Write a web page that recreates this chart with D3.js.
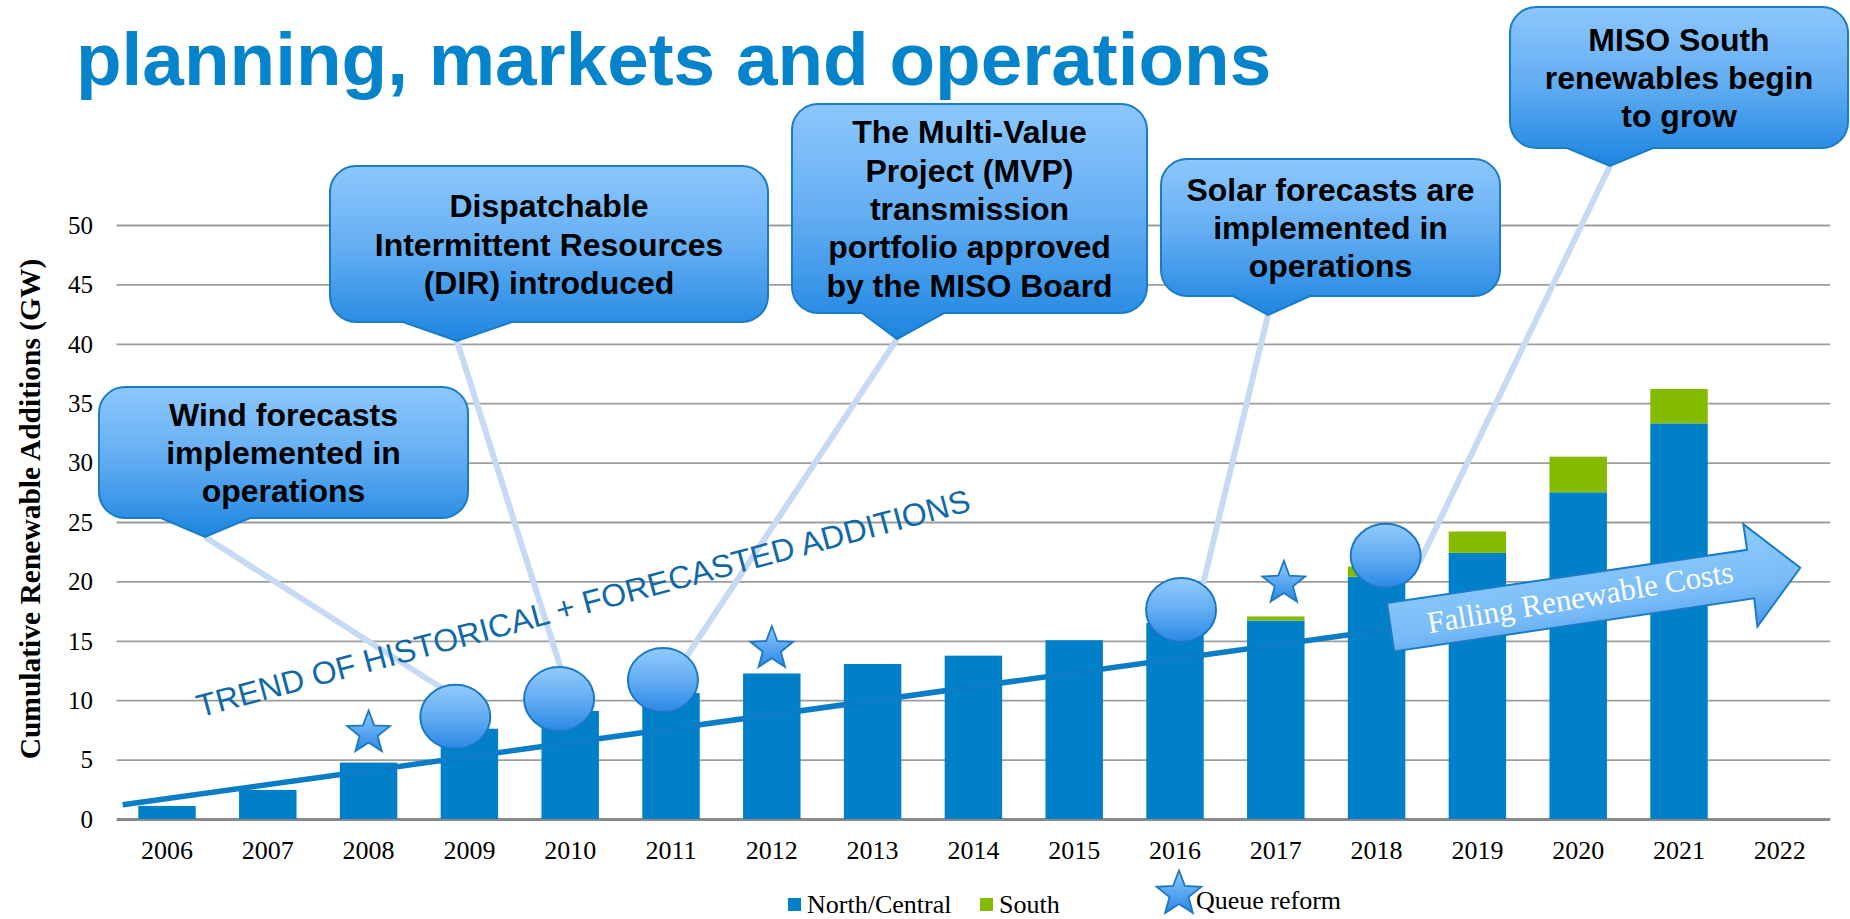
<!DOCTYPE html>
<html><head><meta charset="utf-8">
<script src="https://cdn.jsdelivr.net/npm/d3@7"></script>
<style>html,body{margin:0;padding:0;background:#fff;overflow:hidden}</style>
</head><body>
<svg id="chart" width="1850" height="919"></svg>
<script>
// ---------------- DATA ----------------
const years = ["2006","2007","2008","2009","2010","2011","2012","2013","2014","2015","2016","2017","2018","2019","2020","2021","2022"];
const northCentral = [1.1, 2.45, 4.75, 7.6, 9.1, 10.6, 12.25, 13.05, 13.75, 15.05, 16.5, 16.7, 20.4, 22.4, 27.5, 33.3, 0];
const south        = [0,   0,    0,    0,   0,   0,    0,     0,     0,     0,     0,    0.35, 0.85, 1.8, 3.0, 2.9, 0];
const seriesNames = ["North/Central", "South"];
const yTicks = [0, 5, 10, 15, 20, 25, 30, 35, 40, 45, 50];

const queueReformYears  = [2008, 2012, 2017.08];
const queueReformLevels = [7.4, 14.5, 20.0];

const milestoneYears  = [2008.86, 2009.89, 2010.92, 2016.06, 2018.09];
const milestoneLevels = [8.6, 10.1, 11.7, 17.6, 22.15];

const trendYears  = [2005.56, 2018.23];
const trendLevels = [1.2, 16.1];

const calloutTexts = [
  ["Wind forecasts", "implemented in", "operations"],
  ["Dispatchable", "Intermittent Resources", "(DIR) introduced"],
  ["The Multi-Value", "Project (MVP)", "transmission", "portfolio approved", "by the MISO Board"],
  ["Solar forecasts are", "implemented in", "operations"],
  ["MISO South", "renewables begin", "to grow"]
];

const titleText = "planning, markets and operations";
const yAxisTitle = "Cumulative Renewable Additions (GW)";
const trendLabel = "TREND OF HISTORICAL + FORECASTED ADDITIONS";
const arrowLabel = "Falling Renewable Costs";
const legendStarLabel = "Queue reform";

// ---------------- LAYOUT / STYLE ----------------
const svg = d3.select("#chart");
const SANS = "'Liberation Sans', Arial, sans-serif";
const SERIF = "'Liberation Serif', 'Times New Roman', serif";
const BLUE = "#0080c9", GREEN = "#84bb00";

const x = d3.scaleBand().domain(years).range([116.6, 1830.2]).paddingInner(0.43).paddingOuter(0.215);
const y = d3.scaleLinear().domain([0, 50]).range([819, 225]);
const cx = yr => x(yr) + x.bandwidth() / 2;
const yearPos = d3.scaleLinear().domain([2006, 2022]).range([cx("2006"), cx("2022")]);

const defs = svg.append("defs");
function vGrad(id, stops) {
  const g = defs.append("linearGradient").attr("id", id).attr("x1", 0).attr("y1", 0).attr("x2", 0).attr("y2", 1);
  stops.forEach(s => g.append("stop").attr("offset", s[0]).attr("stop-color", s[1]));
}
vGrad("calloutGrad", [[0, "#8cc7fd"], [0.45, "#66aff3"], [1, "#1c85e0"]]);
vGrad("bubbleGrad", [[0, "#92cbfd"], [0.5, "#64adf2"], [1, "#2a89e6"]]);
vGrad("starGrad", [[0, "#8fc9fd"], [1, "#2a88e4"]]);
vGrad("arrowGrad", [[0, "#90ccfd"], [0.6, "#78bbf7"], [1, "#4a9be9"]]);

// Title
svg.append("text").attr("x", 76).attr("y", 85)
  .attr("font-family", SANS).attr("font-weight", "bold").attr("font-size", 74.7)
  .attr("fill", "#0583cb").text(titleText);

// Y axis with gridlines
const gy = svg.append("g").attr("transform", `translate(${x.range()[0]},0)`)
  .call(d3.axisLeft(y).tickValues(yTicks).tickSize(-(x.range()[1] - x.range()[0])).tickPadding(23.6));
gy.select(".domain").remove();
gy.selectAll(".tick line").attr("stroke", "#9d9d9d").attr("stroke-width", 1.8);
gy.selectAll(".tick").filter(d => d === 0).select("line").attr("stroke", "#898989").attr("stroke-width", 3);
gy.selectAll(".tick text").attr("font-family", SERIF).attr("font-size", 25).attr("fill", "#000").attr("dy", "0.33em");

// X axis labels
const gx = svg.append("g").attr("transform", `translate(0,${y(0)})`)
  .call(d3.axisBottom(x).tickSize(0));
gx.select(".domain").remove();
gx.selectAll(".tick text").attr("font-family", SERIF).attr("font-size", 26).attr("fill", "#000")
  .attr("y", 40).attr("dy", 0);

// Y axis title
svg.append("text").attr("transform", "translate(40,509) rotate(-90)")
  .attr("text-anchor", "middle").attr("font-family", SERIF).attr("font-weight", "bold")
  .attr("font-size", 29.5).attr("fill", "#000").text(yAxisTitle);

// Callout layout (slide shapes)
const calloutLayout = [
  {x0: 99,   x1: 468,  y0: 387, y1: 518, base: [161, 250],   apex: [205, 537],  off: [0, -20]},
  {x0: 330,  x1: 768,  y0: 166, y1: 322, base: [403, 512],   apex: [457, 341],  off: [7, -14]},
  {x0: 792,  x1: 1147, y0: 104, y1: 313, base: [862, 944],   apex: [897, 339],  off: [18, -15]},
  {x0: 1161, x1: 1500, y0: 159, y1: 296, base: [1233, 1310], apex: [1268, 315], off: [22, -26]},
  {x0: 1510, x1: 1848, y0: 7,   y1: 148, base: [1567, 1653], apex: [1610, 166], off: [34, 6]}
];

// Connector lines
svg.append("g").selectAll("line").data(calloutLayout).join("line")
  .attr("x1", d => d.apex[0]).attr("y1", d => d.apex[1])
  .attr("x2", (d, i) => yearPos(milestoneYears[i]) + d.off[0])
  .attr("y2", (d, i) => y(milestoneLevels[i]) + d.off[1])
  .attr("stroke", "#c6daf4").attr("stroke-width", 6);

// Stacked bars
const rows = years.map((yr, i) => ({year: yr, north: northCentral[i], south: south[i]}));
const stack = d3.stack().keys(["north", "south"])(rows);
const colors = [BLUE, GREEN];
svg.append("g").selectAll("g").data(stack).join("g").attr("fill", (d, i) => colors[i])
  .selectAll("rect").data(d => d).join("rect")
  .attr("x", d => x(d.data.year)).attr("width", x.bandwidth())
  .attr("y", d => y(d[1])).attr("height", d => y(d[0]) - y(d[1]));

// Trend line
const trend = trendYears.map((t, i) => ({year: t, gw: trendLevels[i]}));
svg.append("path").datum(trend)
  .attr("d", d3.line().x(d => yearPos(d.year)).y(d => y(d.gw)))
  .attr("stroke", "#0a7dc6").attr("stroke-width", 5.5).attr("fill", "none");

// Trend label
svg.append("text").attr("transform", "translate(586,614) rotate(-15)")
  .attr("text-anchor", "middle").attr("font-family", SANS).attr("font-size", 32)
  .attr("fill", "#0f68a8").text(trendLabel);

// Milestone bubbles
svg.append("g").selectAll("ellipse").data(milestoneYears).join("ellipse")
  .attr("cx", d => yearPos(d)).attr("cy", (d, i) => y(milestoneLevels[i]))
  .attr("rx", 35).attr("ry", 32)
  .attr("fill", "url(#bubbleGrad)").attr("stroke", "#1b78c4").attr("stroke-width", 2);

// Star helper
function starPath(R, r) {
  const p = [];
  for (let i = 0; i < 10; i++) {
    const a = -Math.PI / 2 + i * Math.PI / 5, rr = i % 2 ? r : R;
    p.push([rr * Math.cos(a), rr * Math.sin(a)]);
  }
  return "M" + p.map(q => q.join(",")).join("L") + "Z";
}
svg.append("g").selectAll("path").data(queueReformYears).join("path")
  .attr("transform", (d, i) => `translate(${yearPos(d)},${y(queueReformLevels[i]) + 2})`)
  .attr("d", starPath(22.5, 9.5))
  .attr("fill", "url(#starGrad)").attr("stroke", "#1b78c4").attr("stroke-width", 1.8);

// Falling Renewable Costs arrow
const arrowG = svg.append("g").attr("transform", "translate(1387,603) rotate(-8.4)");
arrowG.append("path").attr("d", "M0,0 L364,0 L364,-26 L414,25.5 L363,77.5 L364,49 L0,49 Z")
  .attr("fill", "url(#arrowGrad)").attr("stroke", "#1a7cc6").attr("stroke-width", 2);
arrowG.append("text").attr("transform", "translate(192,33) rotate(-1.2)").attr("text-anchor", "middle")
  .attr("font-family", SERIF).attr("font-size", 31).attr("fill", "#fff").text(arrowLabel);

// Callouts
function calloutPath(c) {
  const r = 26;
  return `M${c.x0 + r},${c.y0} H${c.x1 - r} A${r},${r} 0 0 1 ${c.x1},${c.y0 + r} V${c.y1 - r} A${r},${r} 0 0 1 ${c.x1 - r},${c.y1} ` +
    `H${c.base[1]} L${c.apex[0]},${c.apex[1]} L${c.base[0]},${c.y1} H${c.x0 + r} A${r},${r} 0 0 1 ${c.x0},${c.y1 - r} V${c.y0 + r} A${r},${r} 0 0 1 ${c.x0 + r},${c.y0} Z`;
}
const cg = svg.append("g").selectAll("g").data(calloutLayout).join("g");
cg.append("path").attr("d", calloutPath).attr("fill", "url(#calloutGrad)")
  .attr("stroke", "#1a7cc6").attr("stroke-width", 2);
cg.each(function (c, i) {
  const lines = calloutTexts[i];
  const sp = 38.4;
  const mid = (c.y0 + c.y1) / 2 + 11.5;
  const first = mid - (lines.length - 1) / 2 * sp;
  d3.select(this).selectAll("text").data(lines).join("text")
    .attr("x", (c.x0 + c.x1) / 2).attr("y", (d, j) => first + j * sp)
    .attr("text-anchor", "middle").attr("font-family", SANS).attr("font-weight", "bold")
    .attr("font-size", 32).attr("fill", "#000").text(d => d);
});

// Legend
const lg = svg.append("g");
const legendItems = [{x: 788, color: BLUE, label: seriesNames[0]}, {x: 980, color: GREEN, label: seriesNames[1]}];
legendItems.forEach(it => {
  lg.append("rect").attr("x", it.x).attr("y", 898).attr("width", 13).attr("height", 13).attr("fill", it.color);
  lg.append("text").attr("x", it.x + 19).attr("y", 913).attr("font-family", SERIF).attr("font-size", 26)
    .attr("fill", "#000").text(it.label);
});
lg.append("path").attr("transform", "translate(1179,894)").attr("d", starPath(23.5, 10))
  .attr("fill", "url(#starGrad)").attr("stroke", "#1b78c4").attr("stroke-width", 1.8);
lg.append("text").attr("x", 1196).attr("y", 909).attr("font-family", SERIF).attr("font-size", 26)
  .attr("fill", "#000").text(legendStarLabel);
</script>
</body></html>
